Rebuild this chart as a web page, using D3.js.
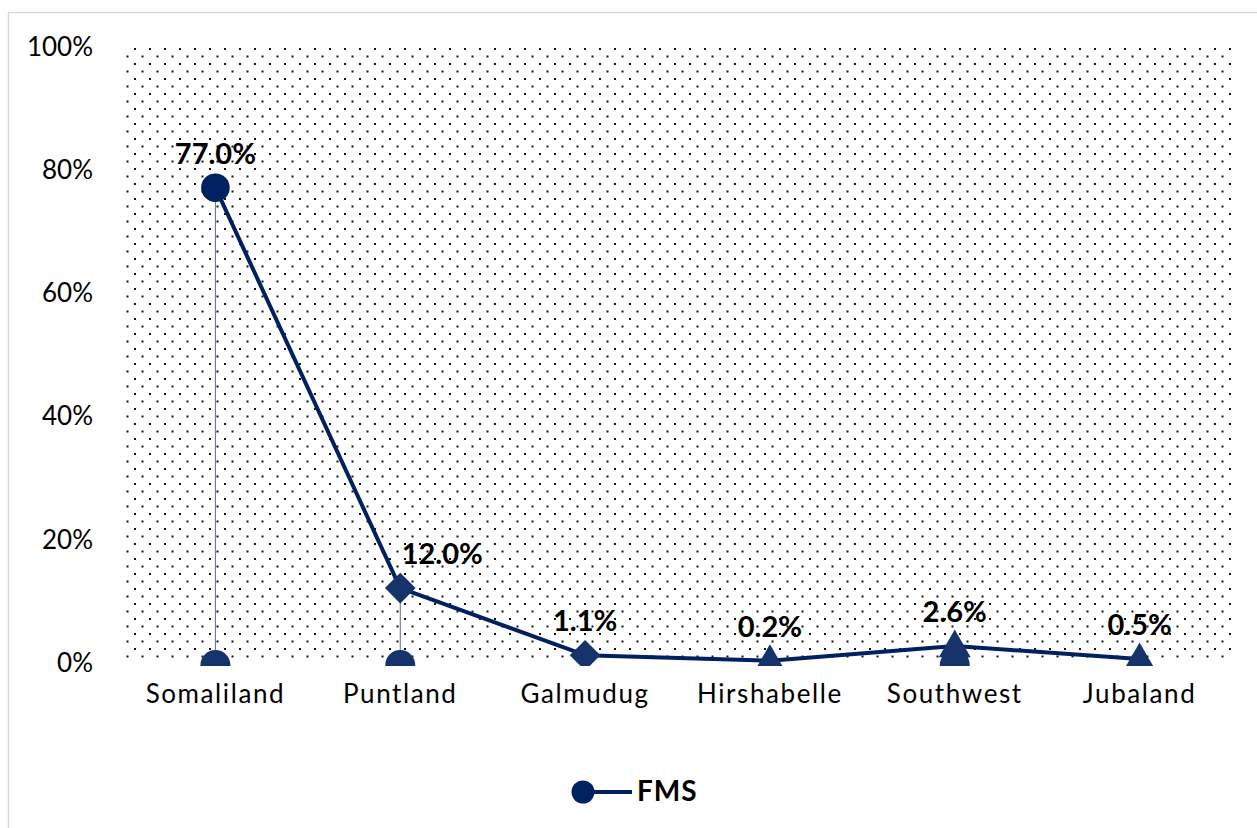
<!DOCTYPE html>
<html>
<head>
<meta charset="utf-8">
<script src="https://cdn.jsdelivr.net/npm/d3@7"></script>
<style>
  html, body { margin: 0; padding: 0; background: #ffffff; }
  svg { display: block; }
  text { font-family: "Lato", "Open Sans", sans-serif; }
</style>
</head>
<body>
<svg id="chart" width="1257" height="828"></svg>
<script>
// ---- data ----
const categories = ["Somaliland", "Puntland", "Galmudug", "Hirshabelle", "Southwest", "Jubaland"];
const values = [0.770, 0.120, 0.011, 0.002, 0.026, 0.005];
const valueLabels = ["77.0%", "12.0%", "1.1%", "0.2%", "2.6%", "0.5%"];
const markerShapes = ["circle", "diamond", "diamond", "triangle", "triangle", "triangle"];
const baseMarkers = ["Somaliland", "Puntland", "Southwest"];
const yTicks = [0, 0.2, 0.4, 0.6, 0.8, 1.0];
const seriesName = "FMS";

// ---- layout ----
const W = 1257, H = 828;
const plot = { left: 123, right: 1232, top: 46, bottom: 662 };
const lineColor = "#002060";
const markerColor = "#17336c";

const svg = d3.select("#chart");

// outer border
svg.append("rect")
  .attr("x", 8.5).attr("y", 12.5)
  .attr("width", W + 10).attr("height", H + 10)
  .attr("fill", "#ffffff").attr("stroke", "#d9d9d9").attr("stroke-width", 1.5);

const x = d3.scaleBand().domain(categories).range([plot.left, plot.right]);
const y = d3.scaleLinear().domain([0, 1]).range([plot.bottom, plot.top]);

// dotted pattern
const defs = svg.append("defs");
const pat = defs.append("pattern")
  .attr("id", "dots").attr("patternUnits", "userSpaceOnUse")
  .attr("x", plot.left - 4).attr("y", plot.top + 2)
  .attr("width", 15).attr("height", 15);
pat.append("rect").attr("x", 0).attr("y", 0).attr("width", 2).attr("height", 2).attr("fill", "#111");
pat.append("rect").attr("x", 7.5).attr("y", 7.5).attr("width", 2).attr("height", 2).attr("fill", "#111");

defs.append("clipPath").attr("id", "plotclip")
  .append("rect").attr("x", 0).attr("y", 0).attr("width", W).attr("height", plot.bottom + 4);

svg.append("rect")
  .attr("x", plot.left).attr("y", plot.top)
  .attr("width", plot.right - plot.left).attr("height", plot.bottom - plot.top)
  .attr("fill", "url(#dots)");

// y axis labels
const yAxis = d3.axisLeft(y).tickValues(yTicks).tickFormat(d3.format(".0%")).tickSize(0).tickPadding(0);
const gy = svg.append("g").attr("transform", `translate(93,0)`).call(yAxis);
gy.select(".domain").remove();
gy.selectAll("text").attr("font-size", 26).attr("fill", "#000").attr("font-family", "Lato, sans-serif").attr("dy", "0.36em");

// x axis labels
const xAxis = d3.axisBottom(x).tickSize(0).tickPadding(0);
const gx = svg.append("g").attr("transform", `translate(0,${plot.bottom})`).call(xAxis);
gx.select(".domain").remove();
gx.selectAll("text").attr("font-size", 26).attr("letter-spacing", 1.6).attr("fill", "#000")
  .attr("font-family", "Lato, sans-serif").attr("dy", "0").attr("y", 41);

const cx = c => x(c) + x.bandwidth() / 2;
const pts = categories.map((c, i) => ({ c, v: values[i], label: valueLabels[i], shape: markerShapes[i] }));

const marks = svg.append("g").attr("clip-path", "url(#plotclip)");

// drop lines
marks.selectAll("line.drop").data(pts).join("line")
  .attr("class", "drop")
  .attr("x1", d => cx(d.c)).attr("x2", d => cx(d.c))
  .attr("y1", d => y(d.v)).attr("y2", y(0))
  .attr("stroke", "#5a6d96").attr("stroke-width", 1);

// base markers at zero
marks.selectAll("circle.base").data(baseMarkers).join("circle")
  .attr("class", "base")
  .attr("cx", d => cx(d)).attr("cy", y(0) + 3).attr("r", 15)
  .attr("fill", markerColor);

// line
const line = d3.line().x(d => cx(d.c)).y(d => y(d.v));
marks.append("path").datum(pts)
  .attr("d", line).attr("fill", "none")
  .attr("stroke", lineColor).attr("stroke-width", 4).attr("stroke-linejoin", "round");

// markers
const symType = { circle: d3.symbolCircle, diamond: d3.symbolSquare, triangle: d3.symbolTriangle };
const symSize = { circle: 640, diamond: 470, triangle: 440 };
marks.selectAll("path.mk").data(pts).join("path")
  .attr("class", "mk")
  .attr("transform", d => `translate(${cx(d.c)},${y(d.v) + (d.shape === "triangle" ? 2 : 0)})` + (d.shape === "diamond" ? " rotate(45)" : ""))
  .attr("d", d => d3.symbol().type(symType[d.shape]).size(symSize[d.shape])())
  .attr("fill", d => d.shape === "circle" ? lineColor : markerColor);

// data labels
const labelDx = { "Puntland": 42 };
svg.selectAll("text.dl").data(pts).join("text")
  .attr("class", "dl")
  .attr("x", d => cx(d.c) + (labelDx[d.c] || 0))
  .attr("y", d => y(d.v) - 24)
  .attr("text-anchor", "middle")
  .attr("font-size", 29).attr("font-weight", "bold").attr("fill", "#000")
  .text(d => d.label);

// legend
const lg = svg.append("g");
lg.append("line").attr("x1", 583).attr("x2", 632).attr("y1", 792).attr("y2", 792)
  .attr("stroke", lineColor).attr("stroke-width", 4);
lg.append("circle").attr("cx", 583).attr("cy", 792).attr("r", 11.5).attr("fill", lineColor);
lg.append("text").attr("x", 637).attr("y", 801).attr("font-size", 28).attr("letter-spacing", 1).attr("font-weight", "bold")
  .attr("fill", "#000").text(seriesName);
</script>
</body>
</html>
